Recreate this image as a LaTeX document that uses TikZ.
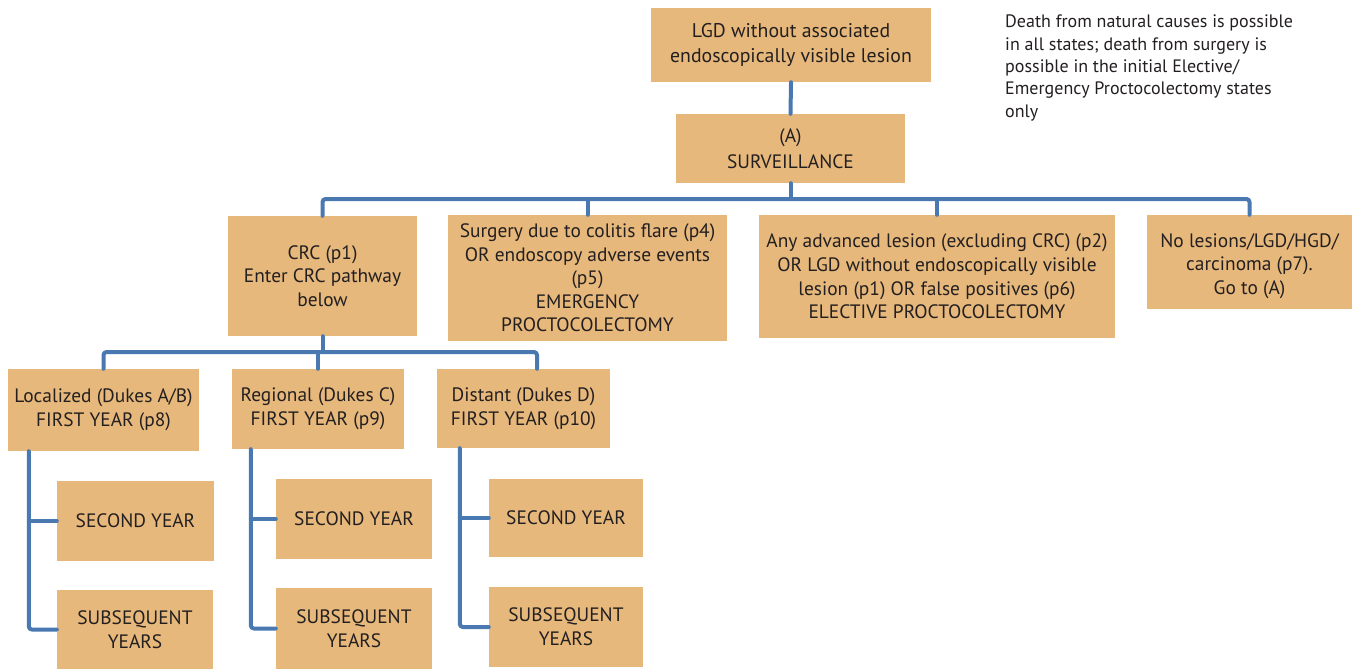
\documentclass[tikz,border=0pt]{standalone}
\usepackage{fontspec}
\setmainfont{PT Sans}
\definecolor{boxfill}{HTML}{E7B87B}
\definecolor{linecol}{HTML}{4A78B0}
\definecolor{txt}{HTML}{231F20}
\tikzset{
  box/.style={fill=boxfill, draw=none, inner sep=0pt, align=center, text=txt,
    font=\fontsize{19.4}{23.6}\selectfont},
  conn/.style={draw=linecol, line width=4pt, line cap=round, line join=round, rounded corners=3pt},
  note/.style={align=left, text=txt, inner sep=0pt, anchor=north west,
    font=\fontsize{18}{22.3}\selectfont}
}
\begin{document}
\begin{tikzpicture}[x=1pt,y=-1pt]
\useasboundingbox (0,0) rectangle (1360,669);
% top row
\node[box, minimum width=280, minimum height=74, font=\fontsize{19.8}{25}\selectfont] (top) at (791,45) {LGD without associated\\endoscopically visible lesion};
\node[box, minimum width=229, minimum height=69, font=\fontsize{19.4}{26}\selectfont] (surv) at (790.5,148.5) {(A)\\SURVEILLANCE};
\node[note] (nt) at (1005,15) {Death from natural causes is possible\\in all states; death from surgery is\\possible in the initial Elective/\\Emergency Proctocolectomy states\\only};
% second row
\node[box, minimum width=189, minimum height=120] (crc) at (322.5,276) {CRC (p1)\\Enter CRC pathway\\below};
\node[box, minimum width=279, minimum height=126] (emg) at (587.5,278) {Surgery due to colitis flare (p4)\\OR endoscopy adverse events\\(p5)\\EMERGENCY\\PROCTOCOLECTOMY};
\node[box, minimum width=356, minimum height=123] (adv) at (937,276.5) {Any advanced lesion (excluding CRC) (p2)\\OR LGD without endoscopically visible\\lesion (p1) OR false positives (p6)\\ELECTIVE PROCTOCOLECTOMY};
\node[box, minimum width=205, minimum height=94] (nol) at (1249.5,262) {};
\node[box, fill=none] (nolt) at (1249.5,266) {No lesions/LGD/HGD/\\carcinoma (p7).\\Go to (A)};
% third row
\node[box, minimum width=191, minimum height=82] (loc) at (103.5,410) {Localized (Dukes A/B)\\FIRST YEAR (p8)};
\node[box, minimum width=172, minimum height=80] (reg) at (318,409) {Regional (Dukes C)\\FIRST YEAR (p9)};
\node[box, minimum width=173, minimum height=79] (dis) at (523.5,408.5) {Distant (Dukes D)\\FIRST YEAR (p10)};
% bottom rows
\node[box, minimum width=157, minimum height=80] (sec1) at (135.5,521) {SECOND YEAR};
\node[box, minimum width=156, minimum height=79] (sub1) at (135,629.5) {SUBSEQUENT\\YEARS};
\node[box, minimum width=156, minimum height=80] (sec2) at (354,519) {SECOND YEAR};
\node[box, minimum width=156, minimum height=81] (sub2) at (354,628.5) {SUBSEQUENT\\YEARS};
\node[box, minimum width=154, minimum height=78] (sec3) at (566,518) {SECOND YEAR};
\node[box, minimum width=154, minimum height=80] (sub3) at (566,627) {SUBSEQUENT\\YEARS};
% bar coordinates
\coordinate (b1) at (0,199);
\coordinate (b2) at (0,352);
\coordinate (d3) at (537,352);
% connectors
\draw[conn] (top.south) -- (surv.north);
\draw[conn] (surv.south) -- (surv.south |- b1);
\draw[conn] (crc.north) |- (nol.north |- b1) -- (nol.north);
\draw[conn] (emg.north) -- (emg.north |- b1);
\draw[conn] (adv.north) -- (adv.north |- b1);
\draw[conn] (crc.south) -- (crc.south |- b2);
\draw[conn] (loc.north) |- (d3) -- (d3 |- dis.north);
\draw[conn] (reg.north) -- (reg.north |- b2);
\coordinate (v1) at ([xshift=21]loc.south west);
\coordinate (v2) at ([xshift=19]reg.south west);
\coordinate (v3) at ([xshift=23]dis.south west);
\draw[conn] (v1) |- (sub1.west);
\draw[conn] (sec1.west) -- (sec1.west -| v1);
\draw[conn] (v2) |- (sub2.west);
\draw[conn] (sec2.west) -- (sec2.west -| v2);
\draw[conn] (v3) |- (sub3.west);
\draw[conn] (sec3.west) -- (sec3.west -| v3);
\end{tikzpicture}
\end{document}
